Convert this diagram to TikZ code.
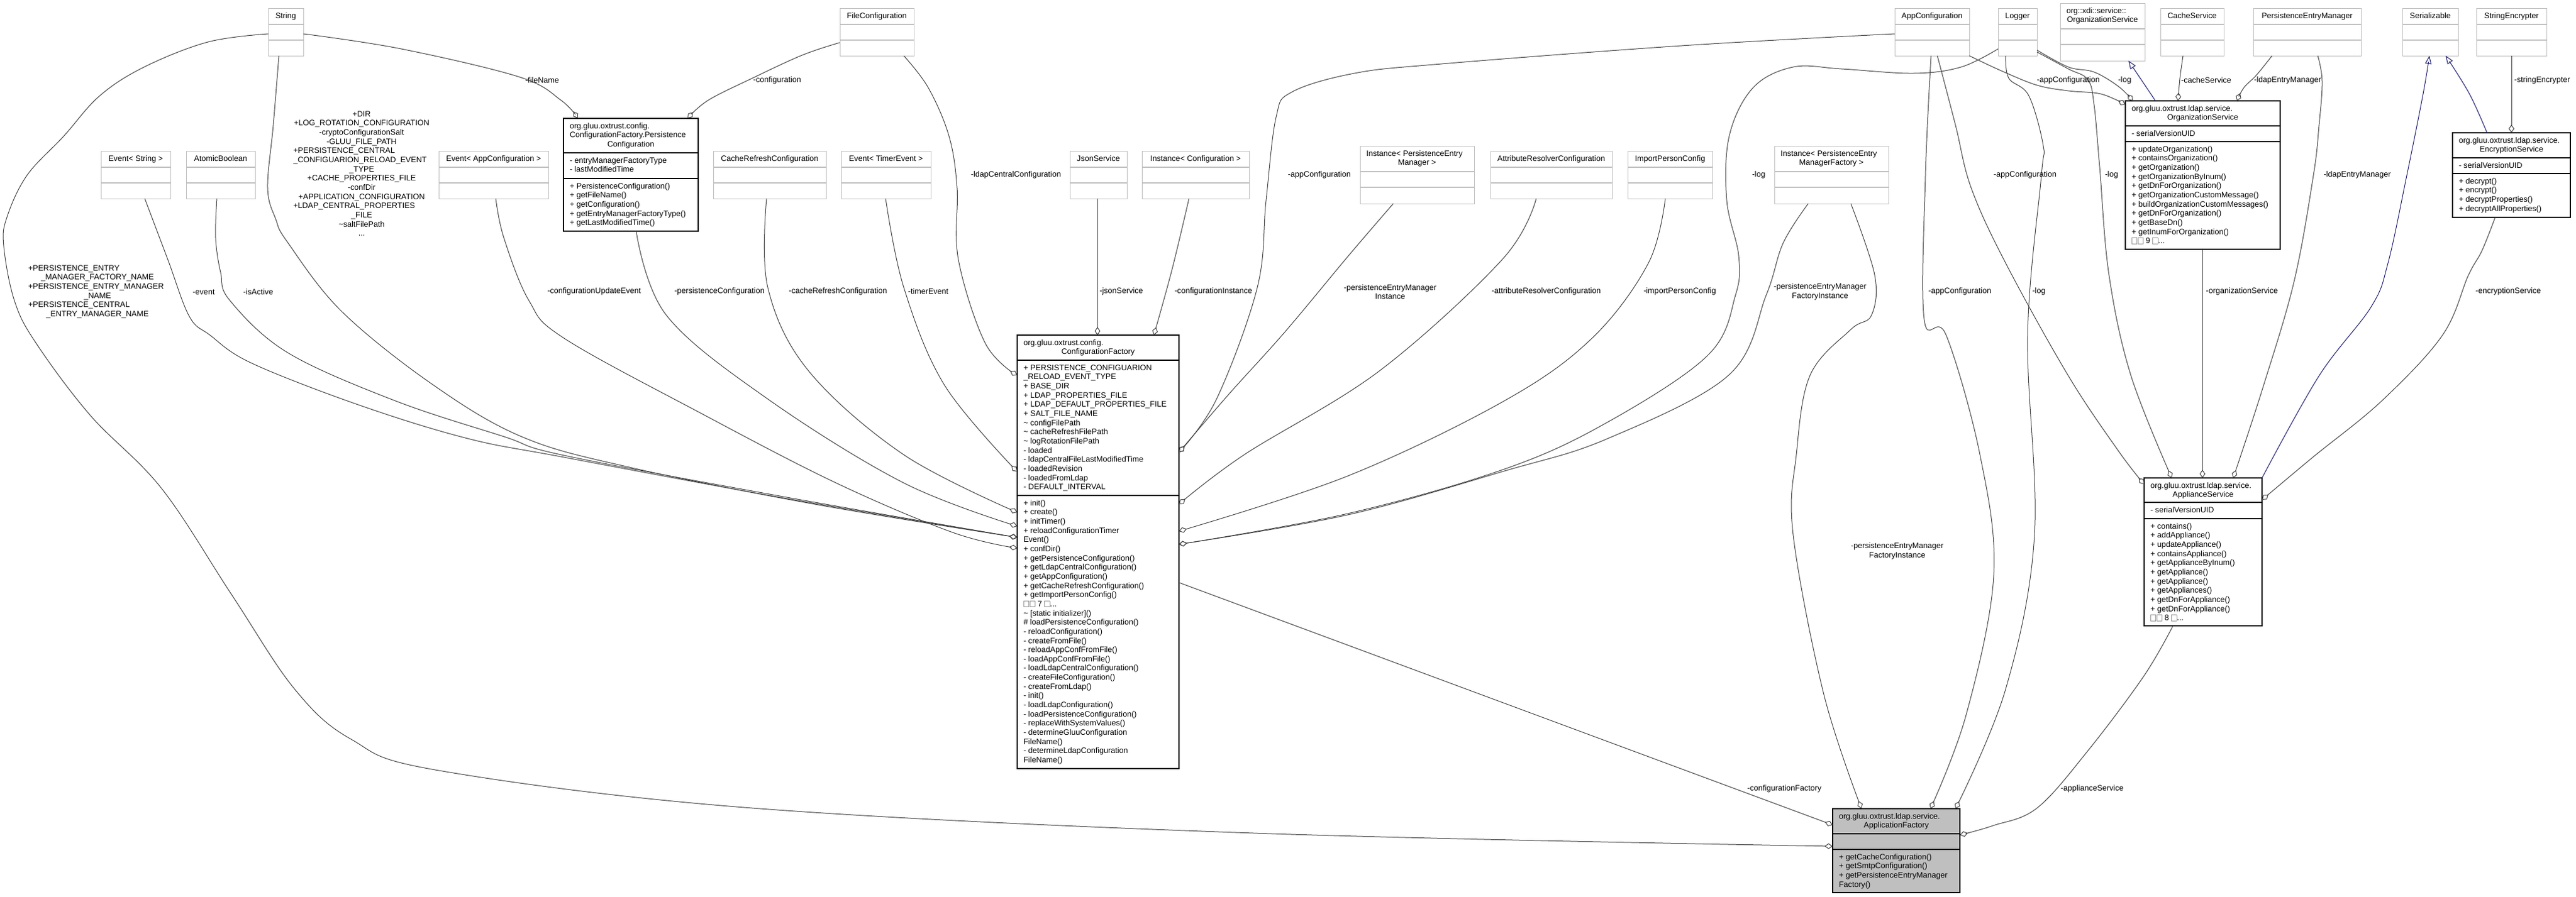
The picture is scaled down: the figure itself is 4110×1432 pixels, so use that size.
\documentclass[tikz,border=0pt]{standalone}
\usepackage{fontspec}
\setmainfont{Liberation Sans}
\usetikzlibrary{arrows.meta}
\definecolor{g75}{HTML}{BFBFBF}
\definecolor{g25}{HTML}{404040}
\definecolor{navy}{HTML}{191970}
\definecolor{g60}{HTML}{9A9A9A}
\newcommand\lineL[1]{\hbox to\hsize{\strut#1\hss}}
\newcommand\lineC[1]{\hbox to\hsize{\hss\strut#1\hss}}
\newcommand\ib{\textcolor{g60}{\fboxsep=0pt\fboxrule=0.8pt\fbox{\rule{0pt}{8.5pt}\hspace{7.5pt}}}}
\newcommand\gcls[5]{%
  \node[gbox, anchor=north west, minimum width={#4-#2}, minimum height=76] (#1) at (#2,#3) {};
  \draw[gsep] (#1.west |- 0,#3+26) -- (#1.east |- 0,#3+26);
  \draw[gsep] (#1.west |- 0,#3+51) -- (#1.east |- 0,#3+51);
  \node[txt] (#1-h) at ({#2+10},{#3+6}) {\vbox{\hsize=\dimexpr#4pt-#2pt-20pt\relax\lineC{#5}}};}
\newcommand\gclsii[6]{%
  \node[gbox, anchor=north west, minimum width={#4-#2}, minimum height=92] (#1) at (#2,#3) {};
  \draw[gsep] (#1.west |- 0,#3+41) -- (#1.east |- 0,#3+41);
  \draw[gsep] (#1.west |- 0,#3+66) -- (#1.east |- 0,#3+66);
  \node[txt] (#1-h) at ({#2+10},{#3+6}) {\vbox{\hsize=\dimexpr#4pt-#2pt-20pt\relax\lineL{#5}\lineC{#6}}};}
\newcommand\bcls[9]{%
  \node[#2, anchor=north west, minimum width={#5-#3}, minimum height={#8-#4}] (#1) at (#3,#4) {};
  \draw[bsep] (#1.west |- 0,#6) -- (#1.east |- 0,#6);
  \draw[bsep] (#1.west |- 0,#7) -- (#1.east |- 0,#7);
  \node[txt] (#1-h) at ({#3+10},{#4+6}) {\vbox{\hsize=\dimexpr#5pt-#3pt-20pt\relax #9}};}
\newcommand\comp[5]{%
  \node[txt] (#1) at ({#2+10},{#4+6}) {\vbox{\hsize=\dimexpr#3pt-#2pt-20pt\relax #5}};}
\begin{document}
\begin{tikzpicture}[x=1pt,y=-1pt,
  every node/.style={font=\fontsize{12.6}{14.65}\selectfont},
  gbox/.style={draw=g75, line width=1pt, fill=white, inner sep=0, outer sep=0},
  gsep/.style={draw=g75, line width=1.2pt},
  bcls/.style={draw=black, line width=1.3pt, fill=white, inner sep=0, outer sep=0},
  fcls/.style={draw=black, line width=1.3pt, fill=g75, inner sep=0, outer sep=0},
  bsep/.style={draw=black, line width=1.3pt},
  txt/.style={anchor=north west, inner sep=0, outer sep=0},
  lbl/.style={inner sep=0, align=center},
  edge/.style={draw=g25, line width=1pt, -{Diamond[open, length=13pt, width=9pt]}},
  inh/.style={draw=navy, line width=1pt, -{Triangle[open, length=13pt, width=10pt]}},
  sm/.style={smooth, tension=0.6}]
\useasboundingbox (0,0) rectangle (4110,1432);
\fill[white] (0,0) rectangle (4110,1432);

% ---------- grey (undocumented) classes ----------
\gcls{str}{428}{13}{484}{String}
\gcls{fcfg}{1340}{13}{1458}{FileConfiguration}
\gcls{appc}{3023}{13}{3142}{AppConfiguration}
\gcls{logr}{3188}{13}{3250}{Logger}
\gclsii{xos}{3287}{5}{3422}{org::xdi::service::}{OrganizationService}
\gcls{cache}{3447}{13}{3548}{CacheService}
\gcls{pem}{3595}{13}{3767}{PersistenceEntryManager}
\gcls{ser}{3833}{13}{3922}{Serializable}
\gcls{senc}{3951}{13}{4063}{StringEncrypter}
\gcls{evs}{161}{241}{272}{Event< String >}
\gcls{atb}{297}{241}{407}{AtomicBoolean}
\gcls{eac}{700}{241}{875}{Event< AppConfiguration >}
\gcls{crc}{1138}{241}{1318}{CacheRefreshConfiguration}
\gcls{ete}{1342}{241}{1485}{Event< TimerEvent >}
\gcls{json}{1707}{241}{1798}{JsonService}
\gcls{icfg}{1822}{241}{1993}{Instance< Configuration >}
\gclsii{ipem}{2170}{233}{2352}{Instance< PersistenceEntry}{Manager >}
\gcls{arc}{2378}{241}{2572}{AttributeResolverConfiguration}
\gcls{ipc}{2597}{241}{2732}{ImportPersonConfig}
\gclsii{ipemf}{2831}{233}{3013}{Instance< PersistenceEntry}{ManagerFactory >}

% ---------- documented classes ----------
\bcls{pc}{bcls}{899}{189}{1114}{244}{285}{369}{\lineL{org.gluu.oxtrust.config.}\lineL{ConfigurationFactory.Persistence}\lineC{Configuration}}
\comp{pc-a}{899}{1114}{244}{\lineL{- entryManagerFactoryType}\lineL{- lastModifiedTime}}
\comp{pc-m}{899}{1114}{285}{\lineL{+ PersistenceConfiguration()}\lineL{+ getFileName()}\lineL{+ getConfiguration()}\lineL{+ getEntryManagerFactoryType()}\lineL{+ getLastModifiedTime()}}

\bcls{cf}{bcls}{1623}{535}{1881}{575}{791}{1227}{\lineL{org.gluu.oxtrust.config.}\lineC{ConfigurationFactory}}
\comp{cf-a}{1623}{1881}{575}{\lineL{+ PERSISTENCE\_CONFIGUARION}\lineL{\_RELOAD\_EVENT\_TYPE}\lineL{+ BASE\_DIR}\lineL{+ LDAP\_PROPERTIES\_FILE}\lineL{+ LDAP\_DEFAULT\_PROPERTIES\_FILE}\lineL{+ SALT\_FILE\_NAME}\lineL{\textasciitilde{} configFilePath}\lineL{\textasciitilde{} cacheRefreshFilePath}\lineL{\textasciitilde{} logRotationFilePath}\lineL{- loaded}\lineL{- ldapCentralFileLastModifiedTime}\lineL{- loadedRevision}\lineL{- loadedFromLdap}\lineL{- DEFAULT\_INTERVAL}}
\comp{cf-m}{1623}{1881}{791}{\lineL{+ init()}\lineL{+ create()}\lineL{+ initTimer()}\lineL{+ reloadConfigurationTimer}\lineL{Event()}\lineL{+ confDir()}\lineL{+ getPersistenceConfiguration()}\lineL{+ getLdapCentralConfiguration()}\lineL{+ getAppConfiguration()}\lineL{+ getCacheRefreshConfiguration()}\lineL{+ getImportPersonConfig()}\lineL{\ib\kern1pt\ib\ 7 \ib...}\lineL{\textasciitilde{} [static initializer]()}\lineL{\# loadPersistenceConfiguration()}\lineL{- reloadConfiguration()}\lineL{- createFromFile()}\lineL{- reloadAppConfFromFile()}\lineL{- loadAppConfFromFile()}\lineL{- loadLdapCentralConfiguration()}\lineL{- createFileConfiguration()}\lineL{- createFromLdap()}\lineL{- init()}\lineL{- loadLdapConfiguration()}\lineL{- loadPersistenceConfiguration()}\lineL{- replaceWithSystemValues()}\lineL{- determineGluuConfiguration}\lineL{FileName()}\lineL{- determineLdapConfiguration}\lineL{FileName()}}

\bcls{os}{bcls}{3391}{161}{3638}{201}{226}{398}{\lineL{org.gluu.oxtrust.ldap.service.}\lineC{OrganizationService}}
\comp{os-a}{3391}{3638}{201}{\lineL{- serialVersionUID}}
\comp{os-m}{3391}{3638}{226}{\lineL{+ updateOrganization()}\lineL{+ containsOrganization()}\lineL{+ getOrganization()}\lineL{+ getOrganizationByInum()}\lineL{+ getDnForOrganization()}\lineL{+ getOrganizationCustomMessage()}\lineL{+ buildOrganizationCustomMessages()}\lineL{+ getDnForOrganization()}\lineL{+ getBaseDn()}\lineL{+ getInumForOrganization()}\lineL{\ib\kern1pt\ib\ 9 \ib...}}

\bcls{es}{bcls}{3913}{212}{4101}{252}{277}{347}{\lineL{org.gluu.oxtrust.ldap.service.}\lineC{EncryptionService}}
\comp{es-a}{3913}{4101}{252}{\lineL{- serialVersionUID}}
\comp{es-m}{3913}{4101}{277}{\lineL{+ decrypt()}\lineL{+ encrypt()}\lineL{+ decryptProperties()}\lineL{+ decryptAllProperties()}}

\bcls{as}{bcls}{3421}{763}{3609}{802}{828}{999}{\lineL{org.gluu.oxtrust.ldap.service.}\lineC{ApplianceService}}
\comp{as-a}{3421}{3609}{802}{\lineL{- serialVersionUID}}
\comp{as-m}{3421}{3609}{828}{\lineL{+ contains()}\lineL{+ addAppliance()}\lineL{+ updateAppliance()}\lineL{+ containsAppliance()}\lineL{+ getApplianceByInum()}\lineL{+ getAppliance()}\lineL{+ getAppliance()}\lineL{+ getAppliances()}\lineL{+ getDnForAppliance()}\lineL{+ getDnForAppliance()}\lineL{\ib\kern1pt\ib\ 8 \ib...}}

\bcls{af}{fcls}{2924}{1291}{3127}{1331}{1356}{1425}{\lineL{org.gluu.oxtrust.ldap.service.}\lineC{ApplicationFactory}}
\comp{af-m}{2924}{3127}{1356}{\lineL{+ getCacheConfiguration()}\lineL{+ getSmtpConfiguration()}\lineL{+ getPersistenceEntryManager}\lineL{Factory()}}

% ---------- connectors ----------
\draw[edge] plot[sm] coordinates {(str.west |- 0,54) (332,67) (230,107) (159,153) (102,217) (43,280) (11,347) (6,393) (23,480) (57,547) (144,663) (258,780) (370,950) (470,1100) (560,1180) (700,1230) (1200,1290) (2000,1330) (af.west |- 0,1351)};
\draw[edge] plot[sm] coordinates {(str.south -| 445,0) (436,200) (427,300) (440,350) (459,387) (545,497) (689,613) (832,697) (1000,745) (1300,805) (cf.west |- 0,858)};
\draw[edge] plot[sm] coordinates {(evs.south -| 231,0) (268,415) (302,505) (335,535) (402,580) (574,647) (746,700) (900,730) (1250,795) (cf.west |- 0,858)};
\draw[edge] plot[sm] coordinates {(atb.south -| 346,0) (344,380) (352,435) (367,480) (459,563) (631,640) (804,697) (900,727) (1250,793) (cf.west |- 0,858)};
\draw[edge] plot[sm] coordinates {(eac.south -| 791,0) (804,380) (844,480) (900,540) (1117,659) (1334,771) (1520,850) (cf.west |- 0,875)};
\draw[edge] plot[sm] coordinates {(str.east |- 0,54) (640,78) (829,123) (895,160) (pc.north -| 922,0)};
\draw[edge] plot[sm] coordinates {(fcfg.west |- 0,68) (1280,88) (1200,125) (1130,160) (pc.north -| 1097,0)};
\draw[edge] plot[sm] coordinates {(fcfg.south -| 1442,0) (1481,140) (1514,217) (1527,300) (1529,414) (1572,548) (cf.west |- 0,599)};
\draw[edge] plot[sm] coordinates {(pc.south -| 1015,0) (1063,503) (1225,637) (1442,771) (cf.west |- 0,840)};
\draw[edge] plot[sm] coordinates {(crc.south -| 1223,0) (1225,459) (1290,592) (1442,726) (cf.west |- 0,818)};
\draw[edge] plot[sm] coordinates {(ete.south -| 1413,0) (1442,459) (1507,615) (cf.west |- 0,753)};
\draw[edge] (json.south -| 1751,0) -- (cf.north -| 1751,0);
\draw[edge] plot[sm] coordinates {(icfg.south -| 1897,0) (1870,430) (cf.north -| 1841,0)};
\draw[edge] plot[sm] coordinates {(appc.west |- 0,54) (2683,73) (2300,102) (2161,117) (2061,147) (2036,187) (2020,320) (2006,459) (1941,637) (cf.east |- 0,722)};
\draw[edge] plot[sm] coordinates {(ipem.south -| 2223,0) (2150,410) (2050,530) (1960,630) (cf.east |- 0,722)};
\draw[edge] plot[sm] coordinates {(arc.south -| 2451,0) (2397,414) (2201,592) (1985,726) (cf.east |- 0,805)};
\draw[edge] plot[sm] coordinates {(ipc.south -| 2657,0) (2630,420) (2540,540) (2400,640) (2150,760) (cf.east |- 0,848)};
\draw[edge] plot[sm] coordinates {(logr.west |- 0,78) (3129,107) (3053,117) (2938,110) (2861,107) (2797,140) (2759,217) (2755,320) (2774,408) (2769,471) (2725,567) (2563,675) (2400,749) (2150,820) (cf.east |- 0,869)};
\draw[edge] plot[sm] coordinates {(ipemf.south -| 2885,0) (2845,388) (2818,471) (2758,599) (2563,701) (2400,752) (2150,822) (cf.east |- 0,869)};
\draw[edge] (cf.east |- 0,930) -- (af.west |- 0,1317);
\draw[edge] plot[sm] coordinates {(ipemf.south -| 2953,0) (2991,439) (2986,503) (2953,526) (2888,599) (2866,726) (2861,854) (2910,1109) (af.north -| 2970,0)};
\draw[edge] plot[sm] coordinates {(appc.south -| 3081,0) (3072,280) (3070,510) (3105,535) (3159,726) (3181,918) (3137,1141) (af.north -| 3080,0)};
\draw[edge] plot[sm] coordinates {(logr.south -| 3200,0) (3205,125) (3237,153) (3260,233) (3257,280) (3235,535) (3246,854) (3200,1100) (af.north -| 3120,0)};
\draw[edge] plot[sm] coordinates {(as.south -| 3467,0) (3420,1080) (3330,1200) (3250,1290) (3180,1318) (af.east |- 0,1333)};
\draw[edge] plot[sm] coordinates {(appc.south east) (3193,113) (3250,136) (3300,145) (3352,150) (os.west |- 0,167)};
\draw[edge] plot[sm] coordinates {(logr.east |- 0,80) (3300,107) (3341,115) (3380,138) (os.north -| 3403,0)};
\draw[edge] plot[sm] coordinates {(logr.east |- 0,83) (3300,110) (3331,127) (3341,167) (3350,267) (3365,440) (3400,600) (as.north -| 3465,0)};
\draw[inh] (os.north -| 3439,0) -- (xos.south -| 3396,0);
\draw[edge] plot[sm] coordinates {(cache.south -| 3483,0) (3478,125) (os.north -| 3475,0)};
\draw[edge] plot[sm] coordinates {(pem.south -| 3625,0) (3600,120) (3580,140) (os.north -| 3569,0)};
\draw[edge] plot[sm] coordinates {(pem.south -| 3698,0) (3705,130) (3700,200) (3691,280) (3660,450) (3610,620) (as.north -| 3563,0)};
\draw[edge] (os.south -| 3514,0) -- (as.north -| 3514,0);
\draw[inh] plot[sm] coordinates {(as.north east) (3700,600) (3783,490) (3810,420) (3840,280) (3866,150) (ser.south -| 3876,0)};
\draw[inh] plot[sm] coordinates {(es.north -| 3968,0) (3940,150) (ser.south -| 3902,0)};
\draw[edge] (senc.south -| 4007,0) -- (es.north -| 4007,0);
\draw[edge] plot[sm] coordinates {(es.south -| 3981,0) (3960,400) (3938,440) (3897,535) (3800,640) (3690,730) (as.east |- 0,798)};
\draw[edge] plot[sm] coordinates {(appc.south -| 3091,0) (3120,200) (3145,300) (3200,420) (3300,600) (3380,720) (as.west |- 0,773)};

% ---------- connector labels ----------
\node[txt] (l-pen) at (45,422) {\vbox{\hsize=221pt\lineL{+PERSISTENCE\_ENTRY}\lineC{\_MANAGER\_FACTORY\_NAME}\lineL{+PERSISTENCE\_ENTRY\_MANAGER}\lineC{\_NAME}\lineL{+PERSISTENCE\_CENTRAL}\lineC{\_ENTRY\_MANAGER\_NAME}}};
\node[txt] (l-dir) at (468,176) {\vbox{\hsize=218pt\lineC{+DIR}\lineC{+LOG\_ROTATION\_CONFIGURATION}\lineC{-cryptoConfigurationSalt}\lineC{-GLUU\_FILE\_PATH}\lineL{+PERSISTENCE\_CENTRAL}\lineL{\_CONFIGUARION\_RELOAD\_EVENT}\lineC{\_TYPE}\lineC{+CACHE\_PROPERTIES\_FILE}\lineC{-confDir}\lineC{+APPLICATION\_CONFIGURATION}\lineL{+LDAP\_CENTRAL\_PROPERTIES}\lineC{\_FILE}\lineC{\textasciitilde saltFilePath}\lineC{...}}};
\node[lbl] (l1) at (865,128) {-fileName};
\node[lbl] (l2) at (1240,128) {-configuration};
\node[lbl] (l3) at (325,466) {-event};
\node[lbl] (l4) at (412,466) {-isActive};
\node[lbl] (l5) at (948,465) {-configurationUpdateEvent};
\node[lbl] (l6) at (1148,465) {-persistenceConfiguration};
\node[lbl] (l7) at (1337,465) {-cacheRefreshConfiguration};
\node[lbl] (l8) at (1481,465) {-timerEvent};
\node[lbl] (l9) at (1621,279) {-ldapCentralConfiguration};
\node[lbl] (l10) at (1789,465) {-jsonService};
\node[lbl] (l11) at (1936,465) {-configurationInstance};
\node[lbl] (l12) at (2105,279) {-appConfiguration};
\node[lbl] (l13) at (2218,466) {-persistenceEntryManager\\Instance};
\node[lbl] (l14) at (2467,465) {-attributeResolverConfiguration};
\node[lbl] (l15) at (2680,465) {-importPersonConfig};
\node[lbl] (l16) at (2806,279) {-log};
\node[lbl] (l17) at (2904,466) {-persistenceEntryManager\\FactoryInstance};
\node[lbl] (l18) at (3127,465) {-appConfiguration};
\node[lbl] (l19) at (3253,465) {-log};
\node[lbl] (l20) at (3027,880) {-persistenceEntryManager\\FactoryInstance};
\node[lbl] (l21) at (2847,1259) {-configurationFactory};
\node[lbl] (l22) at (3338,1259) {-applianceService};
\node[lbl] (l23) at (3231,279) {-appConfiguration};
\node[lbl] (l24) at (3369,279) {-log};
\node[lbl] (l25) at (3761,279) {-ldapEntryManager};
\node[lbl] (l26) at (3300,128) {-appConfiguration};
\node[lbl] (l27) at (3390,128) {-log};
\node[lbl] (l28) at (3520,128) {-cacheService};
\node[lbl] (l29) at (3650,128) {-ldapEntryManager};
\node[lbl] (l30) at (4056,128) {-stringEncrypter};
\node[lbl] (l31) at (3577,465) {-organizationService};
\node[lbl] (l32) at (4002,465) {-encryptionService};
\end{tikzpicture}
\end{document}
